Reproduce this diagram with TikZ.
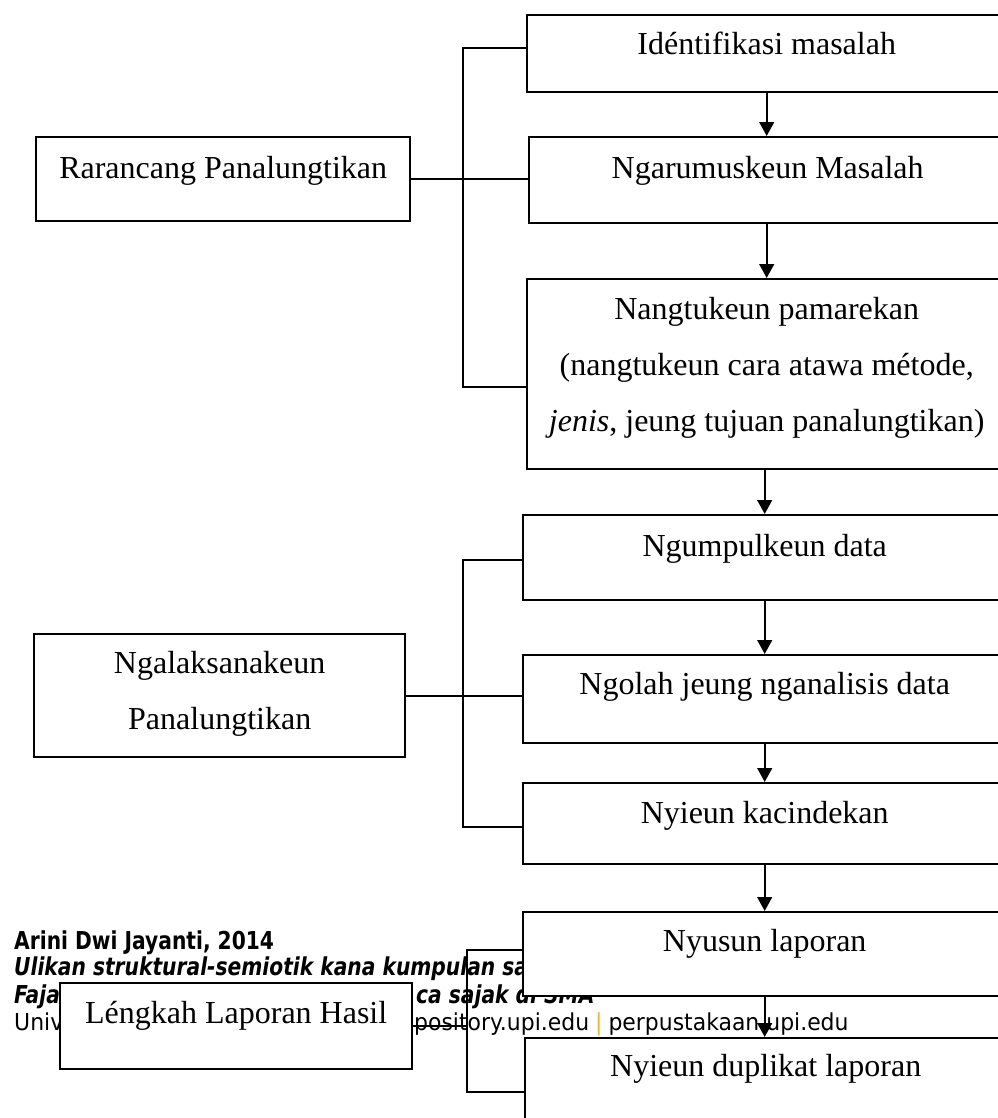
\documentclass[tikz,border=0pt]{standalone}
\usepackage{fontspec}
\setmainfont{Liberation Serif}
\newfontfamily\footfont[FakeStretch=0.94]{DejaVu Sans}
\newfontfamily\footboldfont[FakeStretch=0.82]{DejaVu Sans}
\usetikzlibrary{arrows.meta}
\newlength\upx
\setlength\upx{0.75pt}
\definecolor{upigold}{RGB}{242,178,36}

\begin{document}
\begin{tikzpicture}[x=0.75pt, y=-0.75pt, line width=1.8pt,
	stepbox/.style={draw, fill=white, anchor=north west, inner xsep=0pt, inner ysep=0pt, align=center, font=\fontsize{24}{42}\selectfont},
	flow/.style={-{Triangle[length=10.5pt, width=11pt]}},
	footb/.style={anchor=base west, inner sep=0pt, font=\footboldfont\bfseries\fontsize{18.5}{20}\selectfont},
	footbi/.style={anchor=base west, inner sep=0pt, font=\footboldfont\bfseries\itshape\fontsize{18.5}{20}\selectfont},
	footr/.style={anchor=base west, inner sep=0pt, font=\footfont\fontsize{17.5}{20}\selectfont}]
	\useasboundingbox (0,0) rectangle (998,1118);

	% footer of the scanned page, lying under the chart
	\node[footb] (author) at (13,949) {Arini Dwi Jayanti, 2014};
	\node[footbi] (title) at (13,975) {Ulikan struktural-semiotik kana kumpulan sa};
	\node[footbi] (titleb) at (13,1003) {Faja};
	\node[footbi] (titlec) at (415,1003) {ca sajak di SMA};
	\node[footr] (univ) at (13,1030) {Univ};
	\node[footr] (repo) at (413,1030) {pository.upi.edu\hspace{4.5pt}{\color{upigold}|}\hspace{4.5pt}perpustakaan.upi.edu};

	% left column
	\node[stepbox, minimum width=374\upx, text height=41\upx, text depth=43\upx] (rarancang) at (35,136) {Rarancang Panalungtikan};
	\node[stepbox, minimum width=371\upx, text height=95\upx, text depth=28\upx] (laksana) at (33,633) {Ngalaksanakeun\\Panalungtikan};
	\node[stepbox, minimum width=352\upx, text height=40\upx, text depth=46\upx] (lengkah) at (59,982) {Léngkah Laporan Hasil};

	% right column
	\node[stepbox, minimum width=479\upx, text height=39\upx, text depth=38\upx] (ident) at (526,14) {Idéntifikasi masalah};
	\node[stepbox, minimum width=477\upx, text height=41\upx, text depth=45\upx] (rumus) at (528,136) {Ngarumuskeun Masalah};
	\node[stepbox, minimum width=479\upx, text height=152\upx, text depth=38\upx] (pamarekan) at (526,278) {Nangtukeun pamarekan\\(nangtukeun cara atawa métode,\\\textit{jenis}, jeung tujuan panalungtikan)};
	\node[stepbox, minimum width=483\upx, text height=41\upx, text depth=44\upx] (kumpul) at (522,514) {Ngumpulkeun data};
	\node[stepbox, minimum width=483\upx, text height=39\upx, text depth=49\upx] (olah) at (522,654) {Ngolah jeung nganalisis data};
	\node[stepbox, minimum width=483\upx, text height=40\upx, text depth=41\upx] (cindek) at (522,782) {Nyieun kacindekan};
	\node[stepbox, minimum width=483\upx, text height=39\upx, text depth=45\upx] (susun) at (522,911) {Nyusun laporan};
	\node[stepbox, minimum width=481\upx, text height=38\upx, text depth=60\upx] (duplikat) at (524,1037) {Nyieun duplikat laporan};

	% brackets
	\coordinate (b1top) at (463,48);
	\coordinate (b1bot) at (463,387);
	\coordinate (b2top) at (463,560);
	\coordinate (b2bot) at (463,827);
	\coordinate (b3top) at (467,950);
	\coordinate (b3bot) at (467,1092);
	\draw (ident.west |- b1top) -- (b1top) -- (b1bot) -- (pamarekan.west |- b1bot);
	\draw (rarancang.east) -- (rarancang.east -| rumus.west);
	\draw (kumpul.west |- b2top) -- (b2top) -- (b2bot) -- (cindek.west |- b2bot);
	\draw (laksana.east) -- (laksana.east -| olah.west);
	\draw (susun.west |- b3top) -- (b3top) -- (b3bot) -- (duplikat.west |- b3bot);
	\draw (lengkah.east) -- (lengkah.east -| b3top);

	% flow arrows
	\draw[flow] (ident.south) -- (ident.south |- rumus.north);
	\draw[flow] (rumus.south -| ident.south) -- (ident.south |- pamarekan.north);
	\draw[flow] (pamarekan.south -| kumpul.north) -- (kumpul.north);
	\draw[flow] (kumpul.south) -- (olah.north);
	\draw[flow] (olah.south) -- (cindek.north);
	\draw[flow] (cindek.south) -- (susun.north);
	\draw[flow] (susun.south) -- (susun.south |- duplikat.north);
\end{tikzpicture}
\end{document}
